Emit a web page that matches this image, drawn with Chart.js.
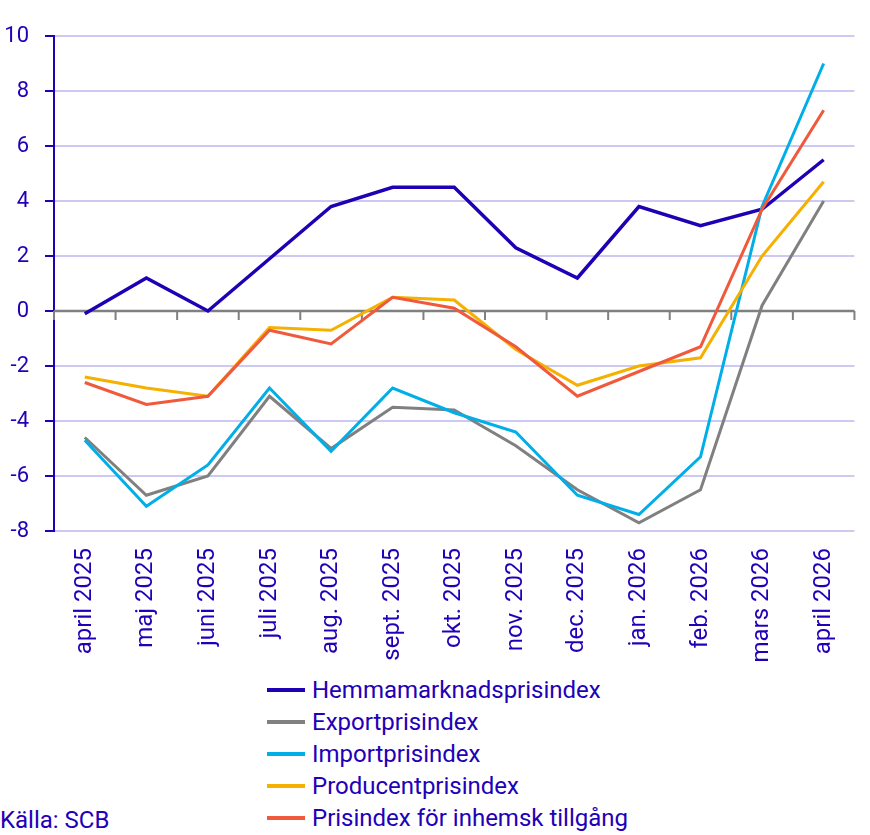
<!DOCTYPE html>
<html lang="sv">
<head>
<meta charset="utf-8">
<script src="https://cdn.jsdelivr.net/npm/chart.js@4.4.1/dist/chart.umd.min.js"></script>
<style>
  body { margin: 0; background: #fff; font-family: Roboto, "Liberation Sans", sans-serif; }
  #wrap { position: relative; width: 870px; height: 835px; }
  #legend { position: absolute; left: 267px; top: 674px; margin: 0; padding: 0; list-style: none; }
  #legend li { display: flex; align-items: center; height: 32px; font-size: 24px; color: #2200b8; }
  #legend span.swatch { display: inline-block; width: 38px; height: 3.5px; margin-right: 7px; }
  #source { position: absolute; left: 0; top: 806px; font-size: 24px; color: #2200b8; }
</style>
</head>
<body>
<div id="wrap">
  <canvas id="myChart" width="870" height="670"></canvas>
  <ul id="legend"></ul>
  <div id="source">Källa: SCB</div>
</div>
<script>
  // Categories and series
  const months = [
    "april 2025", "maj 2025", "juni 2025", "juli 2025", "aug. 2025",
    "sept. 2025", "okt. 2025", "nov. 2025", "dec. 2025", "jan. 2026",
    "feb. 2026", "mars 2026", "april 2026",
  ];
  const hemmamarknad = [-0.1, 1.2, 0.0, 1.9, 3.8, 4.5, 4.5, 2.3, 1.2, 3.8, 3.1, 3.7, 5.5];
  const exportpris = [-4.6, -6.7, -6.0, -3.1, -5.0, -3.5, -3.6, -4.9, -6.5, -7.7, -6.5, 0.2, 4.0];
  const importpris = [-4.7, -7.1, -5.6, -2.8, -5.1, -2.8, -3.7, -4.4, -6.7, -7.4, -5.3, 3.8, 9.0];
  const producentpris = [-2.4, -2.8, -3.1, -0.6, -0.7, 0.5, 0.4, -1.4, -2.7, -2.0, -1.7, 2.0, 4.7];
  const inhemskTillgang = [-2.6, -3.4, -3.1, -0.7, -1.2, 0.5, 0.1, -1.3, -3.1, -2.2, -1.3, 3.7, 7.3];

  const seriesNames = [
    "Hemmamarknadsprisindex",
    "Exportprisindex",
    "Importprisindex",
    "Producentprisindex",
    "Prisindex för inhemsk tillgång",
  ];
  const seriesData = [hemmamarknad, exportpris, importpris, producentpris, inhemskTillgang];
  const seriesColors = ["#1f00b4", "#808080", "#00aee8", "#f5b000", "#f0593b"];

  const textBlue = "#2200b8";

  // Gray zero line with small tick marks between categories
  const zeroLine = {
    id: "zeroLine",
    beforeDatasetsDraw(chart) {
      const x = chart.scales.x;
      const y = chart.scales.y;
      const ctx = chart.ctx;
      const y0 = y.getPixelForValue(0);
      const step = x.getPixelForValue(1) - x.getPixelForValue(0);
      ctx.save();
      ctx.strokeStyle = "#808080";
      ctx.lineWidth = 2.5;
      ctx.beginPath();
      ctx.moveTo(chart.chartArea.left, y0);
      ctx.lineTo(chart.chartArea.right, y0);
      ctx.stroke();
      ctx.lineWidth = 2;
      ctx.beginPath();
      for (let i = 0; i <= months.length; i++) {
        const px = x.getPixelForValue(i) - step / 2;
        ctx.moveTo(px, y0);
        ctx.lineTo(px, y0 + 9);
      }
      ctx.stroke();
      ctx.restore();
    },
  };

  const config = {
    type: "line",
    data: {
      labels: months,
      datasets: seriesNames.map((name, i) => ({
        label: name,
        data: seriesData[i],
        borderColor: seriesColors[i],
        backgroundColor: seriesColors[i],
        borderWidth: i === 0 ? 3.5 : 3,
        pointRadius: 0,
        tension: 0,
        order: seriesNames.length - i,
      })),
    },
    options: {
      responsive: false,
      animation: false,
      layout: { padding: { top: 36, right: 14, left: 0, bottom: 0 } },
      plugins: {
        legend: { display: false },
        tooltip: { enabled: false },
      },
      scales: {
        x: {
          offset: true,
          grid: { display: false, drawTicks: false, offset: true },
          border: { display: false },
          ticks: {
            color: textBlue,
            font: { family: "Roboto", size: 24 },
            minRotation: 90,
            maxRotation: 90,
            padding: 17,
            autoSkip: false,
          },
          afterFit(scale) { scale.height = 139; },
        },
        y: {
          min: -8,
          max: 10,
          ticks: {
            stepSize: 2,
            color: textBlue,
            font: { family: "Roboto", size: 22 },
            padding: 16,
          },
          grid: {
            color: "#cccaf2",
            lineWidth: 2,
            tickColor: "#2200b8",
            tickLength: 9,
          },
          border: { color: "#2200b8", width: 2 },
          afterFit(scale) { scale.width = 54; },
        },
      },
    },
    plugins: [zeroLine],
  };

  const myChart = new Chart(document.getElementById("myChart"), config);

  // HTML legend, one entry per row
  const legend = document.getElementById("legend");
  myChart.data.datasets.forEach((ds) => {
    const li = document.createElement("li");
    const sw = document.createElement("span");
    sw.className = "swatch";
    sw.style.background = ds.borderColor;
    li.appendChild(sw);
    li.appendChild(document.createTextNode(ds.label));
    legend.appendChild(li);
  });
</script>
</body>
</html>
